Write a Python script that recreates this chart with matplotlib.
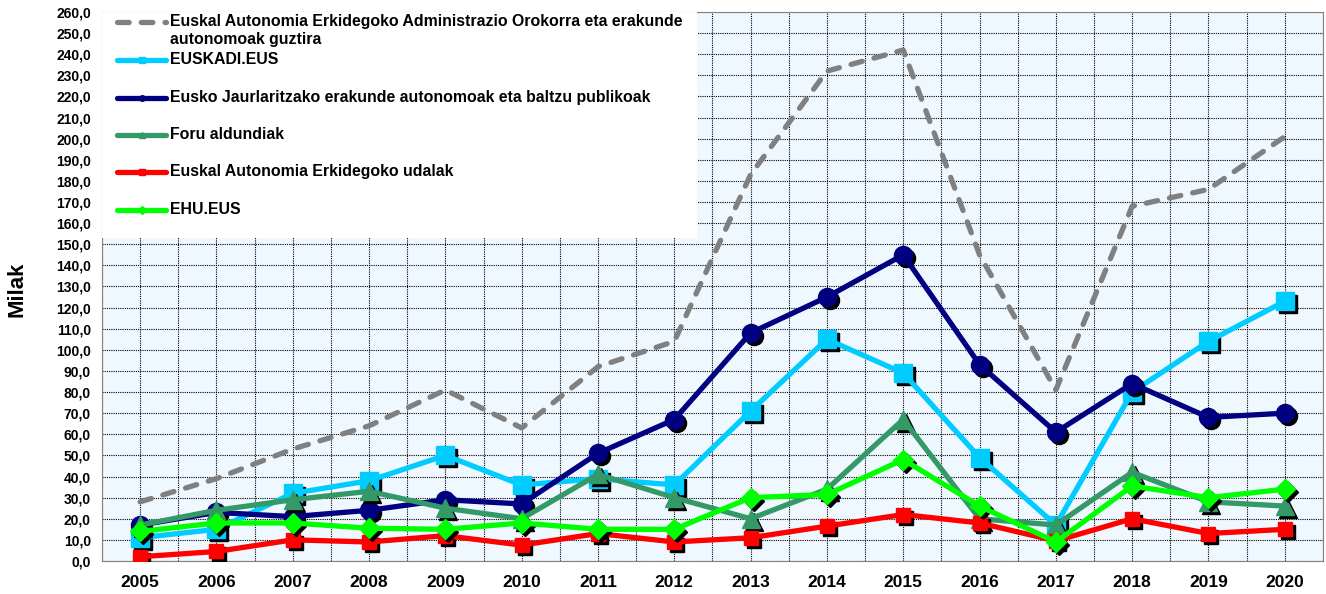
import matplotlib
matplotlib.use("Agg")
import matplotlib.pyplot as plt
import matplotlib.transforms as mtransforms
from matplotlib.patches import Rectangle
from matplotlib.lines import Line2D
import numpy as np

plt.rcParams['font.family'] = ['Liberation Sans', 'DejaVu Sans']
plt.rcParams['font.weight'] = 'bold'

# Years on the x axis
years = [2005, 2006, 2007, 2008, 2009, 2010, 2011, 2012,
         2013, 2014, 2015, 2016, 2017, 2018, 2019, 2020]

# Series values (milak)
guztira = [28, 39, 53, 64, 81, 63, 92, 104, 183, 232, 242, 145, 81, 168, 176, 201]
euskadi_eus = [11, 15, 32, 38, 50, 36, 39, 36, 71, 105, 89, 49, 17, 80, 104, 123]
jaurlaritza = [17, 23, 21, 24, 29, 27, 51, 67, 108, 125, 145, 93, 61, 84, 68, 70]
foru = [17, 24, 29, 33, 25, 20, 41, 30, 20, 34, 67, 20, 17, 42, 28, 26]
udalak = [2, 4.5, 10, 9, 12, 7.5, 13, 9, 11, 16.5, 22, 18, 9.5, 20, 13, 15]
ehu_eus = [14, 18, 18, 15.5, 15, 18, 15, 15, 30, 31.5, 48, 26, 9, 35.5, 30, 34]

labels = [
    ["Euskal Autonomia Erkidegoko Administrazio Orokorra eta erakunde",
     "autonomoak guztira"],
    ["EUSKADI.EUS"],
    ["Eusko Jaurlaritzako erakunde autonomoak eta baltzu publikoak"],
    ["Foru aldundiak"],
    ["Euskal Autonomia Erkidegoko udalak"],
    ["EHU.EUS"],
]

# (values, color, marker, markersize)
series = [
    (guztira, "#808080", None, 0),
    (euskadi_eus, "#00CCFF", "s", 13),
    (jaurlaritza, "#000080", "o", 13),
    (foru, "#339966", "^", 13),
    (udalak, "#FF0000", "s", 10.5),
    (ehu_eus, "#00FF00", "D", 10.5),
]

DASH = (0, (2.2, 2.3))

fig = plt.figure(figsize=(13.26, 5.94), dpi=100)
ax = fig.add_axes([0.0769, 0.0556, 0.9208, 0.9242])
ax.set_facecolor("#F0F8FF")

# markers get a black drop shadow, offset down-right
shadow = mtransforms.offset_copy(ax.transData, fig=fig, x=3, y=-3, units='dots')

for i, (vals, col, mk, ms) in enumerate(series):
    z = 3 + i
    if mk is None:
        ax.plot(years, vals, color=col, lw=3.8, linestyle=DASH,
                dash_capstyle='round', zorder=z)
    else:
        ax.plot(years, vals, linestyle='none', marker=mk, ms=ms, color='black',
                transform=shadow, zorder=z)
        ax.plot(years, vals, color=col, lw=3.8, marker=mk, ms=ms,
                markeredgecolor=col, zorder=z + 0.5)

ax.set_xlim(2004.5, 2020.5)
ax.set_ylim(0, 260)
ax.set_xticks(years)
ax.set_xticks(np.arange(2004.5, 2021, 1), minor=True)
ax.set_yticks(np.arange(0, 261, 10))
ax.set_yticklabels([f"{v:.1f}".replace('.', ',') for v in np.arange(0, 261, 10)])
ax.tick_params(axis='x', which='major', length=0, pad=10, labelsize=12.5)
ax.tick_params(axis='x', which='minor', length=0)
ax.tick_params(axis='y', length=0, pad=8, labelsize=10)
for lab in ax.get_xticklabels() + ax.get_yticklabels():
    lab.set_fontweight('bold')

ax.grid(True, which='both', axis='x', color='black', linestyle=(0, (1, 1)), lw=0.8)
ax.grid(True, which='major', axis='y', color='black', linestyle=(0, (1, 1)), lw=0.8)
ax.set_axisbelow(True)
for sp in ax.spines.values():
    sp.set_color('#808080')
    sp.set_linestyle((0, (1, 1)))
    sp.set_linewidth(0.8)

ax.set_ylabel("Milak", fontsize=16, fontweight='bold')
ax.yaxis.set_label_coords(-0.0606, 0.494)

# legend box drawn by hand so the two-line label keeps its handle on the first line
ax.add_patch(Rectangle((0, 0.588), 0.487, 0.412, transform=ax.transAxes,
                       facecolor='white', edgecolor='none', zorder=20))
rows_px = [22, 60, 98, 135, 172, 210]
for (vals, col, mk, ms), lab, ypx in zip(series, labels, rows_px):
    ya = (561 - ypx) / 549
    if mk is None:
        ax.add_line(Line2D([0.0123, 0.0524], [ya, ya], transform=ax.transAxes,
                           color=col, lw=3.8, linestyle=DASH,
                           dash_capstyle='round', zorder=21))
    else:
        ax.add_line(Line2D([0.0123, 0.0524], [ya, ya], transform=ax.transAxes,
                           color=col, lw=3.8, solid_capstyle='round', zorder=21))
        ax.add_line(Line2D([0.0324], [ya], transform=ax.transAxes, color=col,
                           marker=mk, ms=4, zorder=21))
    for k, line in enumerate(lab):
        ax.text(0.0557, ya - k * 18 / 549, line, transform=ax.transAxes,
                fontsize=11.4, fontweight='bold', va='center', zorder=22)

fig.savefig("out.png", dpi=100)
